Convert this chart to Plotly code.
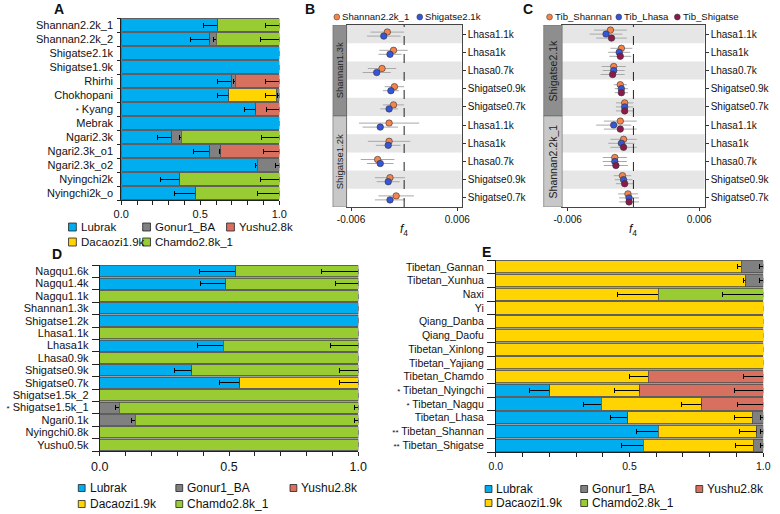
import plotly.graph_objects as go

W, H = 780, 514
FONT = "Liberation Sans, Arial, sans-serif"

# ---------------- data ----------------
SOURCES = ["Lubrak", "Dacaozi1.9k", "Gonur1_BA", "Yushu2.8k", "Chamdo2.8k_1"]
COLORS = {"Lubrak": "#00AEEF", "Dacaozi1.9k": "#FFD400", "Gonur1_BA": "#808080",
          "Yushu2.8k": "#D8705F", "Chamdo2.8k_1": "#99CC33"}
PROP_TICKS = [0.0, 0.5, 1.0]
PROP_TICK_LABELS = ["0.0", "0.5", "1.0"]

# Panel A
A_POPS = ["Shannan2.2k_1", "Shannan2.2k_2", "Shigatse2.1k", "Shigatse1.9k", "Rhirhi",
          "Chokhopani", "*Kyang", "Mebrak", "Ngari2.3k", "Ngari2.3k_o1", "Ngari2.3k_o2",
          "Nyingchi2k", "Nyingchi2k_o"]
A_PROP = {
    "Lubrak":       [0.61, 0.56, 1.0, 1.0, 0.70, 0.68, 0.85, 1.0, 0.32, 0.56, 0.86, 0.37, 0.47],
    "Dacaozi1.9k":  [0, 0, 0, 0, 0, 0.30, 0, 0, 0, 0, 0, 0, 0],
    "Gonur1_BA":    [0, 0.04, 0, 0, 0.02, 0.02, 0, 0, 0.06, 0.07, 0.14, 0, 0],
    "Yushu2.8k":    [0, 0, 0, 0, 0.28, 0, 0.15, 0, 0, 0.37, 0, 0, 0],
    "Chamdo2.8k_1": [0.39, 0.40, 0, 0, 0, 0, 0, 0, 0.62, 0, 0, 0.63, 0.53],
}
A_SE = {
    "Lubrak":       [0.09, 0.12, None, None, 0.09, 0.07, 0.07, None, 0.09, 0.10, 0.01, 0.12, 0.13],
    "Dacaozi1.9k":  [None, None, None, None, None, 0.07, None, None, None, None, None, None, None],
    "Gonur1_BA":    [None, 0.015, None, None, 0.01, 0.012, None, None, 0.01, 0.01, 0.025, None, None],
    "Yushu2.8k":    [None, None, None, None, 0.09, None, 0.08, None, None, 0.10, None, None, None],
    "Chamdo2.8k_1": [0.09, 0.12, None, None, None, None, None, None, 0.11, None, None, 0.12, 0.14],
}

# Panel D
D_POPS = ["Nagqu1.6k", "Nagqu1.4k", "Nagqu1.1k", "Shannan1.3k", "Shigatse1.2k", "Lhasa1.1k",
          "Lhasa1k", "Lhasa0.9k", "Shigatse0.9k", "Shigatse0.7k", "Shigatse1.5k_2",
          "*Shigatse1.5k_1", "Ngari0.1k", "Nyingchi0.8k", "Yushu0.5k"]
D_PROP = {
    "Lubrak":       [0.526, 0.488, 0, 1.0, 1.0, 0, 0.478, 0, 0.356, 0.541, 0, 0, 0, 0, 0],
    "Dacaozi1.9k":  [0, 0, 0, 0, 0, 0, 0, 0, 0, 0.459, 0, 0, 0, 0, 0],
    "Gonur1_BA":    [0, 0, 0, 0, 0, 0, 0, 0, 0, 0, 0, 0.075, 0.137, 0, 0],
    "Yushu2.8k":    [0] * 15,
    "Chamdo2.8k_1": [0.474, 0.512, 1.0, 0, 0, 1.0, 0.522, 1.0, 0.644, 0, 1.0, 0.925, 0.863, 1.0, 1.0],
}
D_SE = {
    "Lubrak":       [0.14, 0.10, None, None, None, None, 0.10, None, 0.067, 0.078, None, None, None, None, None],
    "Dacaozi1.9k":  [None] * 9 + [0.074] + [None] * 5,
    "Gonur1_BA":    [None] * 11 + [0.015, 0.016, None, None],
    "Yushu2.8k":    [None] * 15,
    "Chamdo2.8k_1": [0.142, 0.089, None, None, None, None, 0.106, None, 0.071, None, None, 0.014, 0.014, None, None],
}

# Panel E
E_POPS = ["Tibetan_Gannan", "Tibetan_Xunhua", "Naxi", "Yi", "Qiang_Danba", "Qiang_Daofu",
          "Tibetan_Xinlong", "Tibetan_Yajiang", "Tibetan_Chamdo", "* Tibetan_Nyingchi",
          "* Tibetan_Nagqu", "Tibetan_Lhasa", "** Tibetan_Shannan", "** Tibetan_Shigatse"]
E_PROP = {
    "Lubrak":       [0, 0, 0, 0, 0, 0, 0, 0, 0, 0.202, 0.394, 0.494, 0.607, 0.552],
    "Dacaozi1.9k":  [0.917, 0.934, 0.607, 1.0, 1.0, 1.0, 1.0, 1.0, 0.57, 0.337, 0.377, 0.465, 0.369, 0.410],
    "Gonur1_BA":    [0.083, 0.066, 0, 0, 0, 0, 0, 0, 0, 0, 0, 0.041, 0.024, 0.038],
    "Yushu2.8k":    [0, 0, 0, 0, 0, 0, 0, 0, 0.43, 0.461, 0.229, 0, 0, 0],
    "Chamdo2.8k_1": [0, 0, 0.393, 0, 0, 0, 0, 0, 0, 0, 0, 0, 0, 0],
}
E_SE = {
    "Lubrak":       [None] * 9 + [0.077, 0.068, 0.065, 0.08, 0.082],
    "Dacaozi1.9k":  [0.012, 0.008, 0.153, None, None, None, None, None, 0.07, 0.096, 0.076, 0.067, 0.066, 0.064],
    "Gonur1_BA":    [0.012, 0.012, None, None, None, None, None, None, None, None, None, 0.01, 0.01, 0.01],
    "Yushu2.8k":    [None] * 8 + [0.072, 0.108, 0.096, None, None, None],
    "Chamdo2.8k_1": [None, None, 0.153] + [None] * 11,
}

# Panels B and C (f4 statistics)
F4_TARGETS = ["Lhasa1.1k", "Lhasa1k", "Lhasa0.7k", "Shigatse0.9k", "Shigatse0.7k"] * 2
F4_TICKS = [-0.006, 0.006]
F4_TICK_LABELS = ["-0.006", "0.006"]
B_GROUPS = ["Shannan1.3k", "Shigatse1.2k"]
B_SERIES = ["Shannan2.2k_1", "Shigatse2.1k"]
B_SHANNAN = [-0.0019, -0.0012, -0.0025, -0.0011, -0.0012, -0.0017, -0.0017, -0.0030, -0.0016, -0.0009]
B_SHANNAN_SE = [0.0019, 0.0016, 0.0016, 0.0011, 0.0012, 0.0034, 0.0024, 0.0019, 0.0017, 0.0020]
B_SHIGATSE = [-0.0023, -0.0016, -0.0031, -0.0015, -0.0017, -0.0027, -0.0018, -0.0027, -0.0018, -0.0016]
B_SHIGATSE_SE = [0.0019, 0.0013, 0.0016, 0.0009, 0.0010, 0.0020, 0.0014, 0.0015, 0.0013, 0.0017]

C_GROUPS = ["Shigatse2.1k", "Shannan2.2k_1"]
C_SERIES = ["Tib_Shannan", "Tib_Lhasa", "Tib_Shigatse"]
C_SHANNAN = [-0.0021, -0.0011, -0.0018, -0.0012, -0.0008, -0.0012, -0.0009, -0.0017, -0.0010, -0.0005]
C_SHANNAN_SE = [0.0015, 0.0010, 0.0011, 0.0006, 0.0008, 0.0015, 0.0012, 0.0011, 0.0008, 0.0009]
C_LHASA = [-0.0025, -0.0013, -0.0018, -0.0011, -0.0008, -0.0018, -0.0011, -0.0017, -0.0009, -0.0004]
C_LHASA_SE = [0.0015, 0.0010, 0.0010, 0.0006, 0.0008, 0.0016, 0.0012, 0.0011, 0.0008, 0.0009]
C_SHIGATSE = [-0.0020, -0.0012, -0.0019, -0.0011, -0.0008, -0.0012, -0.0009, -0.0016, -0.0008, -0.0004]
C_SHIGATSE_SE = [0.0014, 0.0010, 0.0011, 0.0006, 0.0008, 0.0015, 0.0012, 0.0011, 0.0008, 0.0009]

PT_COLORS = {"orange": "#F4844C", "blue": "#3556D8", "purple": "#8B1A4B"}

# ---------------- helpers ----------------
def px(x):
    return x / W

def py(y):
    return 1 - y / H

def fmt_label(name):
    stars = len(name) - len(name.lstrip("*"))
    rest = name.lstrip("* ")
    if stars:
        return "<span style='font-size:8px'>" + "*" * stars + "</span> " + rest
    return rest

fig = go.Figure()
shapes = []
annotations = []

def add_admix(pops, prop, se, xa, ya):
    n = len(pops)
    ypos = [n - 1 - i for i in range(n)]
    for s in SOURCES:
        vals = [v if v > 0 else None for v in prop[s]]
        fig.add_trace(go.Bar(
            x=vals, y=ypos, orientation="h", xaxis=xa, yaxis=ya,
            marker=dict(color=COLORS[s], line=dict(color="#505050", width=0.8)),
            error_x=dict(type="data", symmetric=False,
                         array=[0 if e else None for e in se[s]],
                         arrayminus=[e if e else None for e in se[s]],
                         color="black", thickness=1, width=2.5),
            showlegend=False, hoverinfo="skip"))

def bar_axes(xdom, ydom, pops, xa, ya, tfont, yfont, minor_len, gap_len):
    n = len(pops)
    xaxis = dict(domain=xdom, range=[0, 1], anchor=ya,
                 tickvals=PROP_TICKS, ticktext=PROP_TICK_LABELS,
                 ticks="outside", ticklen=4, tickwidth=1, tickcolor="#222",
                 minor=dict(tickmode="array", tickvals=[i / 10 for i in range(11)],
                            ticks="outside", ticklen=4, tickcolor="#222", tickwidth=1,
                            showgrid=False),
                 showline=True, linecolor="#222", linewidth=1,
                 showgrid=False, zeroline=False, fixedrange=True,
                 tickfont=dict(size=tfont, color="#111"))
    yaxis = dict(domain=ydom, range=[-0.5, n - 0.5], anchor=xa,
                 tickvals=list(range(n)),
                 ticktext=[fmt_label(p) for p in reversed(pops)],
                 ticks="outside", ticklen=gap_len, tickcolor="rgba(0,0,0,0)",
                 showline=True, linecolor="#222", linewidth=1,
                 showgrid=False, zeroline=False, fixedrange=True,
                 tickfont=dict(size=yfont, color="#111"),
                 minor=dict(tickmode="array", tickvals=[i - 0.5 for i in range(n + 1)],
                            ticks="outside", ticklen=minor_len, tickcolor="#222", tickwidth=1,
                            showgrid=False))
    return xaxis, yaxis

def bar_background(xa, ya):
    shapes.append(dict(type="rect", xref=xa + " domain", yref=ya + " domain",
                       x0=0, x1=1, y0=0, y1=1, fillcolor="#9c9c9c",
                       line=dict(width=0), layer="below"))

def legend_boxes(items, size, fontsize):
    for name, bx, by in items:
        shapes.append(dict(type="rect", xref="paper", yref="paper",
                           x0=px(bx), x1=px(bx + size), y0=py(by + size / 2), y1=py(by - size / 2),
                           fillcolor=COLORS[name], line=dict(color="#222", width=0.8)))
        annotations.append(dict(text=name, xref="paper", yref="paper", x=px(bx + size + 2.5), y=py(by),
                                xanchor="left", yanchor="middle", showarrow=False,
                                font=dict(size=fontsize, color="#111")))

# ---------------- Panel A ----------------
add_admix(A_POPS, A_PROP, A_SE, "x", "y")
xa1, ya1 = bar_axes([px(114), px(276)], [py(200), py(18)], A_POPS, "x", "y", 11, 11, 3, 5)
bar_background("x", "y")
legend_boxes([("Lubrak", 60, 227), ("Gonur1_BA", 136, 227), ("Yushu2.8k", 222, 227),
              ("Dacaozi1.9k", 60, 242), ("Chamdo2.8k_1", 136, 242)], 8, 11.5)

# ---------------- Panel D ----------------
add_admix(D_POPS, D_PROP, D_SE, "x4", "y4")
xa4, ya4 = bar_axes([px(92), px(357)], [py(451), py(265)], D_POPS, "x4", "y4", 12.5, 11, 7, 8)
bar_background("x4", "y4")
legend_boxes([("Lubrak", 70, 488), ("Gonur1_BA", 170, 488), ("Yushu2.8k", 287, 488),
              ("Dacaozi1.9k", 70, 504), ("Chamdo2.8k_1", 170, 504)], 7, 12)

# ---------------- Panel E ----------------
add_admix(E_POPS, E_PROP, E_SE, "x5", "y5")
xa5, ya5 = bar_axes([px(498), px(772)], [py(452), py(260)], E_POPS, "x5", "y5", 10.5, 10.5, 8, 9)
bar_background("x5", "y5")
legend_boxes([("Lubrak", 487, 489), ("Gonur1_BA", 585, 489), ("Yushu2.8k", 703, 489),
              ("Dacaozi1.9k", 487, 503), ("Chamdo2.8k_1", 585, 503)], 7, 12)

# ---------------- Panels B and C ----------------
def f4_panel(xa, ya, xdom, strip_x, series, groups, strip_font, legend_items):
    n = len(F4_TARGETS)
    ypos = [n - 1 - i for i in range(n)]
    for vals, ses, color, off in series:
        fig.add_trace(go.Scatter(
            x=vals, y=[p + off for p in ypos], mode="markers", xaxis=xa, yaxis=ya,
            marker=dict(size=6.5, color=color, line=dict(color="#333", width=0.6)),
            error_x=dict(type="data", array=ses, color="#a8a8a8", thickness=1, width=0),
            showlegend=False, hoverinfo="skip"))
    for i in range(n):
        if i % 2 == 0:
            shapes.append(dict(type="rect", xref=xa + " domain", yref=ya,
                               x0=0, x1=1, y0=ypos[i] - 0.5, y1=ypos[i] + 0.5,
                               fillcolor="#e6e6e6", line=dict(width=0), layer="below"))
    shapes.append(dict(type="line", xref=xa, yref=ya + " domain", x0=0, x1=0, y0=0, y1=1,
                       line=dict(color="#222", width=1, dash="dash")))
    # facet strips
    for gi, (g, fill) in enumerate(zip(groups, ["#8e8e8e", "#c8c8c8"])):
        y1 = n - 0.5 - gi * 5
        y0 = y1 - 5
        shapes.append(dict(type="rect", xref="paper", yref=ya, x0=px(strip_x[0]), x1=px(strip_x[1]),
                           y0=y0, y1=y1, fillcolor=fill, line=dict(color="#666", width=0.6)))
        annotations.append(dict(text=g, xref="paper", yref=ya, x=px((strip_x[0] + strip_x[1]) / 2),
                                y=(y0 + y1) / 2, textangle=-90, showarrow=False,
                                xanchor="center", yanchor="middle",
                                font=dict(size=strip_font, color="#222")))
    # legend
    for name, color, lx in legend_items:
        shapes.append(dict(type="circle", xref="paper", yref="paper",
                           x0=px(lx - 3), x1=px(lx + 3), y0=py(17 + 3), y1=py(17 - 3),
                           fillcolor=color, line=dict(color="#333", width=0.5)))
        annotations.append(dict(text=name, xref="paper", yref="paper", x=px(lx + 3.5), y=py(17),
                                xanchor="left", yanchor="middle", showarrow=False,
                                font=dict(size=9.6, color="#111")))
    # axis title f4
    annotations.append(dict(text="<i>f</i><sub>4</sub>", xref=xa + " domain", yref="paper",
                            x=0.5, y=py(230), xanchor="center", yanchor="middle",
                            showarrow=False, font=dict(size=12, color="#111")))
    xaxis = dict(domain=xdom, range=[-0.0065, 0.0065], anchor=ya,
                 tickvals=F4_TICKS, ticktext=F4_TICK_LABELS,
                 ticks="outside", ticklen=3, tickcolor="#333",
                 showline=True, mirror=True, linecolor="#444", linewidth=1,
                 showgrid=False, zeroline=False, fixedrange=True,
                 tickfont=dict(size=10, color="#111"))
    yaxis = dict(domain=[py(207), py(25)], range=[-0.5, n - 0.5], anchor=xa, side="right",
                 tickvals=ypos, ticktext=F4_TARGETS,
                 ticks="outside", ticklen=3, tickcolor="#333",
                 showline=True, mirror=True, linecolor="#444", linewidth=1,
                 showgrid=False, zeroline=False, fixedrange=True,
                 tickfont=dict(size=10, color="#111"))
    return xaxis, yaxis

xa2, ya2 = f4_panel("x2", "y2", [px(345), px(463)], (331, 345),
                    [(B_SHANNAN, B_SHANNAN_SE, PT_COLORS["orange"], 0.11),
                     (B_SHIGATSE, B_SHIGATSE_SE, PT_COLORS["blue"], -0.11)],
                    B_GROUPS, 9.5,
                    [(B_SERIES[0], PT_COLORS["orange"], 335), (B_SERIES[1], PT_COLORS["blue"], 420)])
xa3, ya3 = f4_panel("x3", "y3", [px(566), px(712)], (547, 566),
                    [(C_SHANNAN, C_SHANNAN_SE, PT_COLORS["orange"], 0.22),
                     (C_LHASA, C_LHASA_SE, PT_COLORS["blue"], 0.0),
                     (C_SHIGATSE, C_SHIGATSE_SE, PT_COLORS["purple"], -0.22)],
                    C_GROUPS, 10.5,
                    [(C_SERIES[0], PT_COLORS["orange"], 553), (C_SERIES[1], PT_COLORS["blue"], 624),
                     (C_SERIES[2], PT_COLORS["purple"], 684)])

# panel letters
for letter, lx, ly in [("A", 50, 9), ("B", 307, 9), ("C", 531, 9), ("D", 48, 254), ("E", 488, 252)]:
    annotations.append(dict(text="<b>" + letter + "</b>", xref="paper", yref="paper",
                            x=px(lx), y=py(ly), xanchor="center", yanchor="middle",
                            showarrow=False, font=dict(size=14, color="#111")))

fig.update_layout(
    width=W, height=H, margin=dict(l=0, r=0, t=0, b=0),
    paper_bgcolor="white", plot_bgcolor="rgba(0,0,0,0)",
    barmode="stack", bargap=0.12,
    font=dict(family=FONT, color="#111"),
    xaxis=xa1, yaxis=ya1, xaxis2=xa2, yaxis2=ya2, xaxis3=xa3, yaxis3=ya3,
    xaxis4=xa4, yaxis4=ya4, xaxis5=xa5, yaxis5=ya5,
    shapes=shapes, annotations=annotations, showlegend=False,
)

fig.write_html("out.html", config={"displayModeBar": False},
               post_script="document.body.style.margin='0';document.body.style.overflow='hidden';")
